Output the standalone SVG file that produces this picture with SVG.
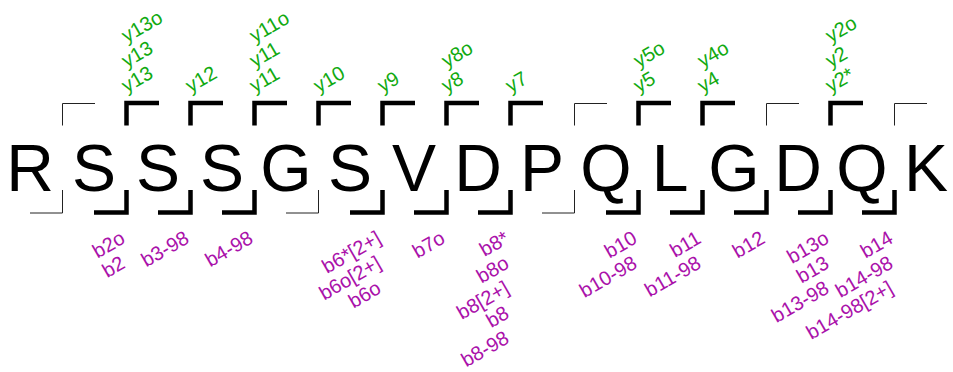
<svg xmlns="http://www.w3.org/2000/svg" width="953" height="372" viewBox="0 0 953 372">
<style>
.aa{font-family:"Liberation Sans",Arial,sans-serif;font-size:66px;fill:#000;text-anchor:middle}
.y{font-family:"Liberation Sans",Arial,sans-serif;font-size:20px;fill:#11aa11;text-anchor:start}
.b{font-family:"Liberation Sans",Arial,sans-serif;font-size:20px;fill:#aa11aa;text-anchor:end}
.thin{fill:none;stroke:#222;stroke-width:1}
.thick{fill:none;stroke:#000;stroke-width:4.5}
</style>
<rect width="953" height="372" fill="#fff"/>
<g id="residues">
<g id="r1"><text class="aa" x="30" y="190.5">R</text></g>
<g id="r2"><text class="aa" x="94" y="190.5">S</text></g>
<g id="r3"><text class="aa" x="158" y="190.5">S</text></g>
<g id="r4"><text class="aa" x="222" y="190.5">S</text></g>
<g id="r5"><text class="aa" x="286" y="190.5">G</text></g>
<g id="r6"><text class="aa" x="350" y="190.5">S</text></g>
<g id="r7"><text class="aa" x="414" y="190.5">V</text></g>
<g id="r8"><text class="aa" x="478" y="190.5">D</text></g>
<g id="r9"><text class="aa" x="542" y="190.5">P</text></g>
<g id="r10"><text class="aa" x="606" y="190.5">Q</text></g>
<g id="r11"><text class="aa" x="670" y="190.5">L</text></g>
<g id="r12"><text class="aa" x="734" y="190.5">G</text></g>
<g id="r13"><text class="aa" x="798" y="190.5">D</text></g>
<g id="r14"><text class="aa" x="862" y="190.5">Q</text></g>
<g id="r15"><text class="aa" x="926" y="190.5">K</text></g>
</g>
<g id="connectors">
<path class="thin" d="M62.5,125.5V103.5H95"/><path class="thin" d="M62.5,190V213H30"/>
<path class="thick" d="M126.5,125.5V103H159"/><path class="thick" d="M126.5,190V212.5H94"/>
<path class="thick" d="M190.5,125.5V103H223"/><path class="thick" d="M190.5,190V212.5H158"/>
<path class="thick" d="M254.5,125.5V103H287"/><path class="thick" d="M254.5,190V212.5H222"/>
<path class="thick" d="M318.5,125.5V103H351"/><path class="thin" d="M318.5,190V213H286"/>
<path class="thick" d="M382.5,125.5V103H415"/><path class="thick" d="M382.5,190V212.5H350"/>
<path class="thick" d="M446.5,125.5V103H479"/><path class="thick" d="M446.5,190V212.5H414"/>
<path class="thick" d="M510.5,125.5V103H543"/><path class="thick" d="M510.5,190V212.5H478"/>
<path class="thin" d="M574.5,125.5V103.5H607"/><path class="thin" d="M574.5,190V213H542"/>
<path class="thick" d="M638.5,125.5V103H671"/><path class="thick" d="M638.5,190V212.5H606"/>
<path class="thick" d="M702.5,125.5V103H735"/><path class="thick" d="M702.5,190V212.5H670"/>
<path class="thin" d="M766.5,125.5V103.5H799"/><path class="thick" d="M766.5,190V212.5H734"/>
<path class="thick" d="M830.5,125.5V103H863"/><path class="thick" d="M830.5,190V212.5H798"/>
<path class="thin" d="M894.5,125.5V103.5H927"/><path class="thick" d="M894.5,190V212.5H862"/>
</g>
<g id="ylabels">
<g id="y-c1"><text class="y" transform="translate(126.5,93) rotate(-30)">y13</text><text class="y" transform="translate(126.5,68) rotate(-30)">y13</text><text class="y" transform="translate(126.5,43) rotate(-30)">y13o</text></g>
<g id="y-c2"><text class="y" transform="translate(190.5,93) rotate(-30)">y12</text></g>
<g id="y-c3"><text class="y" transform="translate(254.5,93) rotate(-30)">y11</text><text class="y" transform="translate(254.5,68) rotate(-30)">y11</text><text class="y" transform="translate(254.5,43) rotate(-30)">y11o</text></g>
<g id="y-c4"><text class="y" transform="translate(318.5,93) rotate(-30)">y10</text></g>
<g id="y-c5"><text class="y" transform="translate(382.5,93) rotate(-30)">y9</text></g>
<g id="y-c6"><text class="y" transform="translate(446.5,93) rotate(-30)">y8</text><text class="y" transform="translate(446.5,68) rotate(-30)">y8o</text></g>
<g id="y-c7"><text class="y" transform="translate(510.5,93) rotate(-30)">y7</text></g>
<g id="y-c9"><text class="y" transform="translate(638.5,93) rotate(-30)">y5</text><text class="y" transform="translate(638.5,68) rotate(-30)">y5o</text></g>
<g id="y-c10"><text class="y" transform="translate(702.5,93) rotate(-30)">y4</text><text class="y" transform="translate(702.5,68) rotate(-30)">y4o</text></g>
<g id="y-c12"><text class="y" transform="translate(830.5,93) rotate(-30)">y2*</text><text class="y" transform="translate(830.5,68) rotate(-30)">y2</text><text class="y" transform="translate(830.5,43) rotate(-30)">y2o</text></g>
</g>
<g id="blabels">
<g id="b-c1"><text class="b" transform="translate(126.5,242) rotate(-30)">b2o</text><text class="b" transform="translate(126.5,267) rotate(-30)">b2</text></g>
<g id="b-c2"><text class="b" transform="translate(190.5,242) rotate(-30)">b3-98</text></g>
<g id="b-c3"><text class="b" transform="translate(254.5,242) rotate(-30)">b4-98</text></g>
<g id="b-c5"><text class="b" transform="translate(382.5,242) rotate(-30)">b6*[2+]</text><text class="b" transform="translate(382.5,267) rotate(-30)">b6o[2+]</text><text class="b" transform="translate(382.5,292) rotate(-30)">b6o</text></g>
<g id="b-c6"><text class="b" transform="translate(446.5,242) rotate(-30)">b7o</text></g>
<g id="b-c7"><text class="b" transform="translate(510.5,242) rotate(-30)">b8*</text><text class="b" transform="translate(510.5,267) rotate(-30)">b8o</text><text class="b" transform="translate(510.5,292) rotate(-30)">b8[2+]</text><text class="b" transform="translate(510.5,317) rotate(-30)">b8</text><text class="b" transform="translate(510.5,342) rotate(-30)">b8-98</text></g>
<g id="b-c9"><text class="b" transform="translate(638.5,242) rotate(-30)">b10</text><text class="b" transform="translate(638.5,267) rotate(-30)">b10-98</text></g>
<g id="b-c10"><text class="b" transform="translate(702.5,242) rotate(-30)">b11</text><text class="b" transform="translate(702.5,267) rotate(-30)">b11-98</text></g>
<g id="b-c11"><text class="b" transform="translate(766.5,242) rotate(-30)">b12</text></g>
<g id="b-c12"><text class="b" transform="translate(830.5,242) rotate(-30)">b13o</text><text class="b" transform="translate(830.5,267) rotate(-30)">b13</text><text class="b" transform="translate(830.5,292) rotate(-30)">b13-98</text></g>
<g id="b-c13"><text class="b" transform="translate(894.5,242) rotate(-30)">b14</text><text class="b" transform="translate(894.5,267) rotate(-30)">b14-98</text><text class="b" transform="translate(894.5,292) rotate(-30)">b14-98[2+]</text></g>
</g>
</svg>
